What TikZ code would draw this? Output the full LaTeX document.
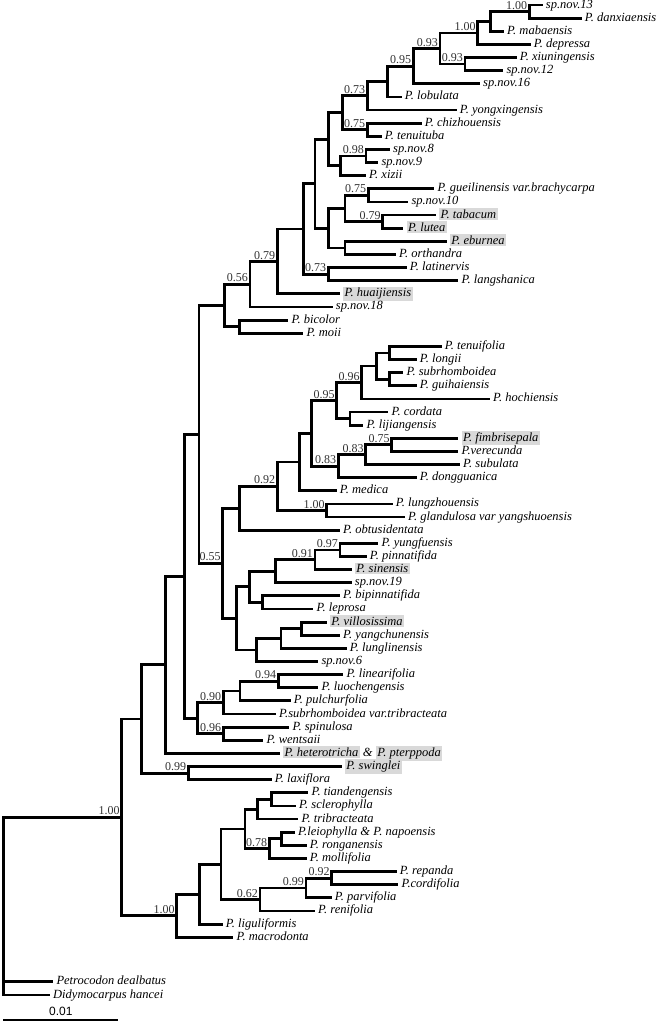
\documentclass[tikz,border=0pt]{standalone}
\usepackage{fontspec}
\setmainfont{Liberation Serif}
\newfontfamily\barfont{Liberation Sans}
\usetikzlibrary{calc,positioning}

\tikzset{
  branch/.style={line width=2.8pt, line join=miter},
  taxon/.style={anchor=west, inner xsep=3pt, inner ysep=0pt, text height=9.5pt, text depth=3.5pt,
    font=\fontsize{12.5}{13}\selectfont\itshape},
  support/.style={anchor=base east, inner sep=0pt, xshift=-2pt, yshift=2.4pt,
    font=\fontsize{12}{12}\selectfont, text=black!80},
  scalebar/.style={line width=1.3pt}
}
\newcommand{\hl}[1]{{\setlength{\fboxsep}{1.5pt}\colorbox{black!15}{#1}}}
% Knoten: Name, x, Kind 1, Kind 2
\newcommand{\clade}[4]{%
  \coordinate (mid) at ($(#3)!.5!(#4)$);
  \coordinate (#1) at (mid -| #2,0);
  \draw[branch] (#1) |- (#3);
  \draw[branch] (#1) |- (#4);}

\begin{document}
\begin{tikzpicture}[x=1pt,y=-1pt]
\useasboundingbox (0,0) rectangle (659,1023);

% Arten
\foreach \n/\x/\t [count=\i from 0] in {
  sp13/542.7/sp.nov.13, danx/581.7/P. danxiaensis, mab/504/P. mabaensis,
  depr/530.7/P. depressa, xiun/516.7/P. xiuningensis, sp12/503.3/sp.nov.12,
  sp16/480/sp.nov.16, lobu/401.7/P. lobulata, yong/456.7/P. yongxingensis,
  chiz/421.7/P. chizhouensis, tenu/381.7/P. tenuituba, sp8/390/sp.nov.8,
  sp9/378.3/sp.nov.9, xizi/366/P. xizii, guei/434.3/P. gueilinensis var.brachycarpa,
  sp10/408.3/sp.nov.10, taba/436/\hl{P. tabacum}, lute/403.3/\hl{P. lutea},
  ebur/446.7/\hl{P. eburnea}, orth/396/P. orthandra, lati/406.7/P. latinervis,
  lang/458.3/P. langshanica, huai/340/\hl{P. huaijiensis}, sp18/332.7/sp.nov.18,
  bico/288.3/P. bicolor, moii/303.3/P. moii, tfol/441.7/P. tenuifolia,
  long/416.7/P. longii, subr/403.3/P. subrhomboidea, guih/416.7/P. guihaiensis,
  hoch/490/P. hochiensis, cord/388.3/P. cordata, liji/363.3/P. lijiangensis,
  fimb/458.3/\hl{P. fimbrisepala}, vere/458.3/P.verecunda, subu/460/P. subulata,
  dong/416.7/P. dongguanica, medi/336.7/P. medica, lung/392.7/P. lungzhouensis,
  glan/405/P. glandulosa var yangshuoensis, obtu/340/P. obtusidentata,
  yung/378.3/P. yungfuensis, pinn/366.7/P. pinnatifida, sine/351.7/\hl{P. sinensis},
  sp19/351.7/sp.nov.19, bipi/340/P. bipinnatifida, lepr/313.3/P. leprosa,
  vill/326.7/\hl{P. villosissima}, yang/340/P. yangchunensis, lugl/346.7/P. lunglinensis,
  sp6/318.3/sp.nov.6, linf/343.3/P. linearifolia, luoc/318.3/P. luochengensis,
  pulc/290.7/P. pulchurfolia, subv/276/P.subrhomboidea var.tribracteata,
  spin/289.3/P. spinulosa, went/263.3/P. wentsaii,
  hete/280/\hl{P. heterotricha} \& \hl{P. pterppoda}, swin/341.7/\hl{P. swinglei},
  laxi/271.7/P. laxiflora, tian/308.3/P. tiandengensis, scle/296/P. sclerophylla,
  trib/298.3/P. tribracteata, leio/295/P.leiophylla \& P. napoensis,
  rong/306.7/P. ronganensis, moll/306.7/P. mollifolia, repa/396.7/P. repanda,
  cdfo/398.3/P.cordifolia, parv/331.7/P. parvifolia, reni/315/P. renifolia,
  ligu/222.7/P. liguliformis, macr/233.3/P. macrodonta}
  \node[taxon] (\n) at (\x,{5+13.13*\i}) {\t};
\node[taxon] (petr) at (53.3,981.7) {Petrocodon dealbatus};
\node[taxon] (didy) at (50,995) {Didymocarpus hancei};

% obere Gruppe
\clade{A1}{529.3}{sp13.west}{danx.west}
\clade{A2}{490.7}{A1}{mab.west}
\clade{A3}{477.7}{A2}{depr.west}
\clade{A5}{465}{xiun.west}{sp12.west}
\clade{A4}{440}{A3}{A5}
\clade{A6}{413.3}{A4}{sp16.west}
\clade{A7}{387.7}{A6}{lobu.west}
\clade{A8}{367.3}{A7}{yong.west}
\clade{A10}{367.3}{chiz.west}{tenu.west}
\clade{A9}{342.7}{A8}{A10}
\clade{A11}{366}{sp8.west}{sp9.west}
\clade{A12}{340.7}{A11}{xizi.west}
\clade{A13}{328.3}{A9}{A12}
\clade{A14}{368.3}{guei.west}{sp10.west}
\clade{A15}{382.7}{taba.west}{lute.west}
\clade{A16}{345}{A14}{A15}
\clade{A17}{345}{ebur.west}{orth.west}
\clade{A18}{328.3}{A16}{A17}
\clade{A19}{315}{A13}{A18}
\clade{A20}{328.3}{lati.west}{lang.west}
\clade{A21}{303.3}{A19}{A20}
\clade{A22}{277.3}{A21}{huai.west}
\clade{A23}{250}{A22}{sp18.west}
\clade{A25}{239.3}{bico.west}{moii.west}
\clade{A24}{224.3}{A23}{A25}

% mittlere Gruppe (0.55)
\clade{F11}{389.3}{tfol.west}{long.west}
\clade{F12}{389.3}{subr.west}{guih.west}
\clade{F10}{376.7}{F11}{F12}
\clade{F9}{361.7}{F10}{hoch.west}
\clade{F13}{350}{cord.west}{liji.west}
\clade{F7}{336.7}{F9}{F13}
\clade{F15}{391.7}{fimb.west}{vere.west}
\clade{F14}{365.7}{F15}{subu.west}
\clade{F8}{338.3}{F14}{dong.west}
\clade{F6}{311.7}{F7}{F8}
\clade{F5}{299.3}{F6}{medi.west}
\clade{F4}{326.7}{lung.west}{glan.west}
\clade{F3}{277.3}{F5}{F4}
\clade{F1}{239.3}{F3}{obtu.west}
\clade{G6}{340}{yung.west}{pinn.west}
\clade{G5}{315}{G6}{sine.west}
\clade{G3}{275.7}{G5}{sp19.west}
\clade{G4}{262.7}{bipi.west}{lepr.west}
\clade{G1}{249.3}{G3}{G4}
\clade{G8}{301.7}{vill.west}{yang.west}
\clade{G7}{281}{G8}{lugl.west}
\clade{G2}{256.7}{G7}{sp6.west}
\clade{F2}{236.7}{G1}{G2}
\clade{F0}{222.7}{F1}{F2}
\clade{B4}{199}{A24}{F0}

% untere Gruppen
\clade{D1}{278.3}{linf.west}{luoc.west}
\clade{D2}{240}{D1}{pulc.west}
\clade{D3}{223.3}{D2}{subv.west}
\clade{D4}{223.3}{spin.west}{went.west}
\clade{D5}{197.7}{D3}{D4}
\clade{B3}{184.3}{B4}{D5}
\clade{B2}{165.7}{B3}{hete.west}
\clade{E1}{188.3}{swin.west}{laxi.west}
\clade{B1}{141.7}{B2}{E1}
\clade{C8}{271.7}{tian.west}{scle.west}
\clade{C7}{257.3}{C8}{trib.west}
\clade{C10}{281.7}{leio.west}{rong.west}
\clade{C9}{269.3}{C10}{moll.west}
\clade{C6}{245}{C7}{C9}
\clade{C5}{331.7}{repa.west}{cdfo.west}
\clade{C4}{306}{C5}{parv.west}
\clade{C3}{260}{C4}{reni.west}
\clade{C2}{221}{C6}{C3}
\clade{C1}{199.3}{C2}{ligu.west}
\clade{C0}{176.7}{C1}{macr.west}
\clade{B0}{121.7}{B1}{C0}

% Wurzel
\coordinate (root) at (3.3,906);
\foreach \c in {B0,petr.west,didy.west}
  \draw[branch] (root) |- (\c);

% Stuetzwerte
\foreach \k/\v in {A1/1.00, A3/1.00, A4/0.93, A5/0.93, A6/0.95, A8/0.73, A10/0.75,
  A11/0.98, A14/0.75, A15/0.79, A20/0.73, A22/0.79, A23/0.56, F9/0.96, F7/0.95,
  F15/0.75, F14/0.83, F8/0.83, F4/1.00, F3/0.92, F0/0.55, G6/0.97, G5/0.91,
  D1/0.94, D3/0.90, D4/0.96, E1/0.99, C9/0.78, C5/0.92, C4/0.99, C3/0.62,
  C0/1.00, B0/1.00}
  \node[support] (\k-bs) at (\k) {\v};

% Massstab
\coordinate (sbl) at (3.3,1020);
\coordinate (sbr) at (118.3,1020);
\draw[scalebar] (sbl) -- (sbr) node[midway, above=0.5pt, font=\barfont\fontsize{12}{12}\selectfont] (sbt) {0.01};

\end{tikzpicture}
\end{document}
